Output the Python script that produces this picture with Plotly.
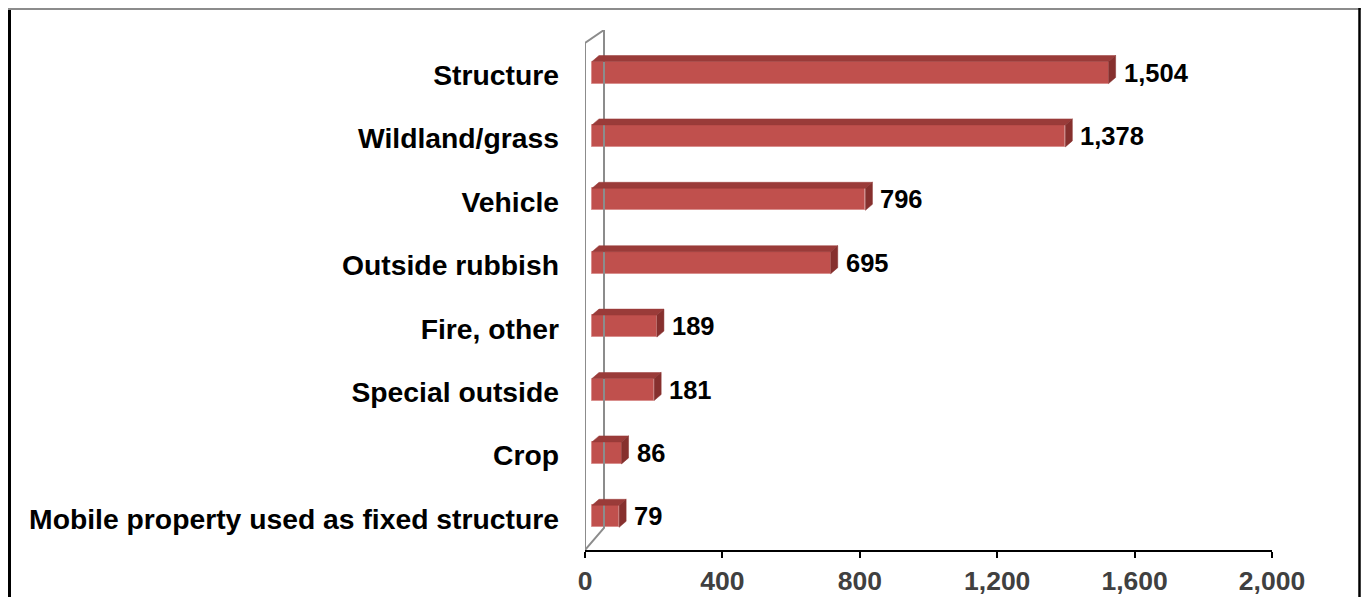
import plotly.graph_objects as go

# ---- data ----
categories = ["Structure", "Wildland/grass", "Vehicle", "Outside rubbish",
              "Fire, other", "Special outside", "Crop",
              "Mobile property used as fixed structure"]
values = [1504, 1378, 796, 695, 189, 181, 86, 79]
x_ticks = [0, 400, 800, 1200, 1600, 2000]

# ---- layout geometry ----
# The html page has an 8px body margin; figure is sized to fit the window
PAGE_OFF = 8
W, H = 1369 - 2 * PAGE_OFF, 605 - 2 * PAGE_OFF
# plot area in screen pixels
PL, PR, PT, PB = 585, 1272, 30, 550
L = PL - PAGE_OFF
T = PT - PAGE_OFF
R = W - (PR - PAGE_OFF)
B = H - (PB - PAGE_OFF)
plot_w = PR - PL
plot_h = PB - PT
x_max = 2000
first_center_px = 72.5     # screen pixel y of first category centre
spacing_px = 63.4
ux = x_max / plot_w               # data units per px (x)
uy = 1.0 / spacing_px             # index units per px (y)


def sy(p):
    """screen pixel y -> category index coordinate"""
    return (p - first_center_px) * uy


y_top = sy(PT)
y_bot = sy(PB)
label_drop = 2.5 * uy   # category labels sit slightly below bar centres

# 3D styling (px)
front_off = 7      # bar front face starts this far right of x=0
half_h = 11        # half height of front face
depth_dx, depth_dy = 7, 6
wall_dx = 19

FRONT = "#C0504D"
TOP = "#9A3B39"
SIDE = "#86302E"
FONT = "Arial, Liberation Sans"

fig = go.Figure()

idx = list(range(len(categories)))
off = front_off * ux
hh = half_h * uy
ddx = depth_dx * ux
ddy = depth_dy * uy

# back wall (axis decoration)
wx = wall_dx * ux
fig.add_trace(go.Scatter(
    x=[0, 0, wx, wx, 0],
    y=[sy(43), y_bot, sy(528), y_top, sy(43)],
    mode="lines", line=dict(color="#8C8C8C", width=2),
    hoverinfo="skip", showlegend=False, cliponaxis=False))

# front faces
fig.add_trace(go.Bar(
    orientation="h", x=values, y=idx, base=off, width=2 * hh,
    marker=dict(color=FRONT, line=dict(color="#D98F8D", width=1)),
    showlegend=False, hovertext=categories))

# top and side faces + value labels
for i, v in zip(idx, values):
    x0 = off
    x1 = off + v
    yt = i - hh
    yb = i + hh
    fig.add_trace(go.Scatter(
        x=[x0, x1, x1 + ddx, x0 + ddx, x0],
        y=[yt, yt, yt - ddy, yt - ddy, yt],
        fill="toself", fillcolor=TOP, mode="lines",
        line=dict(color=TOP, width=0.5), hoverinfo="skip", showlegend=False))
    fig.add_trace(go.Scatter(
        x=[x1, x1 + ddx, x1 + ddx, x1, x1],
        y=[yt, yt - ddy, yb - ddy, yb, yt],
        fill="toself", fillcolor=SIDE, mode="lines",
        line=dict(color=SIDE, width=0.5), hoverinfo="skip", showlegend=False))
    fig.add_annotation(
        x=x1 + ddx, y=i, text=f"{v:,}", showarrow=False,
        xanchor="left", yanchor="middle", xshift=6, yshift=0,
        font=dict(family=FONT, size=25.5, color="#000000", weight="bold"))

# invisible trace carrying the category-label axis
fig.add_trace(go.Scatter(x=[0] * len(idx), y=idx, yaxis="y2", mode="markers",
                         marker=dict(opacity=0), hoverinfo="skip",
                         showlegend=False))

fig.update_layout(
    width=W, height=H, autosize=False,
    margin=dict(l=L, r=R, t=T, b=B, pad=0, autoexpand=False),
    paper_bgcolor="white", plot_bgcolor="white",
    bargap=0,
    xaxis=dict(range=[0, x_max], tickvals=x_ticks,
               ticktext=[f"{t:,}" for t in x_ticks],
               showgrid=False, zeroline=False, automargin=False,
               showline=True, linecolor="#000000", linewidth=2,
               ticks="outside", ticklen=6, tickwidth=2, tickcolor="#000000",
               tickfont=dict(family=FONT, size=26.5, color="#404040",
                             weight="bold"),
               fixedrange=True),
    yaxis=dict(range=[y_bot, y_top], showticklabels=False, automargin=False,
               showgrid=False, zeroline=False, showline=False, ticks="",
               fixedrange=True),
    yaxis2=dict(range=[y_bot - label_drop, y_top - label_drop],
                overlaying="y", side="left", automargin=False,
                tickvals=idx, ticktext=categories,
                showgrid=False, zeroline=False, showline=False, ticks="",
                ticklabelstandoff=25,
                tickfont=dict(family=FONT, size=28.3, color="#000000",
                              weight="bold"),
                fixedrange=True),
)

# chart-area frame (drawn at the nearest pixels available in the figure)
fig.add_shape(type="line", xref="paper", yref="paper",
              x0=(1.5 - L) / plot_w, x1=(1.5 - L) / plot_w,
              y0=(H - B - 0) / plot_h, y1=(H - B - H - 10) / plot_h,
              line=dict(color="#000000", width=3))
fig.add_shape(type="line", xref="paper", yref="paper",
              x0=(0 - L) / plot_w, x1=(W - L) / plot_w,
              y0=(H - B - 1) / plot_h, y1=(H - B - 1) / plot_h,
              line=dict(color="#8C8C8C", width=2))
fig.add_shape(type="line", xref="paper", yref="paper",
              x0=(W - 1.5 - L) / plot_w, x1=(W - 1.5 - L) / plot_w,
              y0=(H - B - 0) / plot_h, y1=(H - B - H - 10) / plot_h,
              line=dict(color="#000000", width=2.5))

fig.write_html("out.html")
